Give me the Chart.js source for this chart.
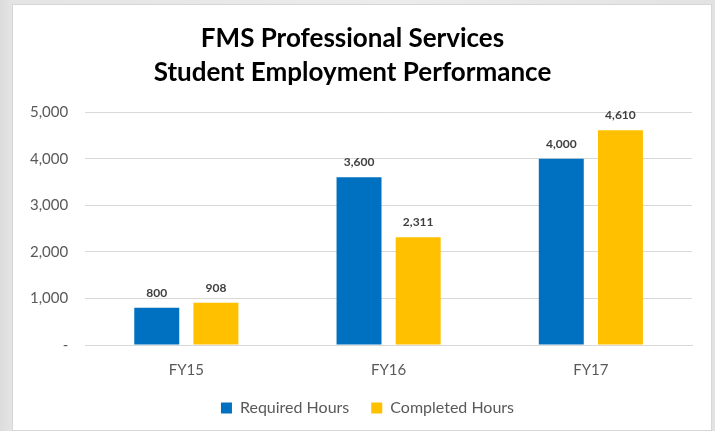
<!DOCTYPE html>
<html>
<head>
<meta charset="utf-8">
<script src="https://cdn.jsdelivr.net/npm/chart.js@4.4.1/dist/chart.umd.min.js"></script>
<style>
  html, body { margin: 0; padding: 0; }
  body {
    width: 715px; height: 431px; overflow: hidden;
    background: linear-gradient(to right, #dcdcdc 0px, #e4e4e4 12px, #ececec 400px, #e2e2e2 715px);
    position: relative;
  }
  #panel {
    position: absolute; left: 12px; top: 4px; width: 700px; height: 427px;
    background: #ffffff; border: 1px solid #d6d6d6; box-sizing: border-box;
  }
</style>
</head>
<body>
<div id="panel"><canvas id="hoursChart"></canvas></div>
<script>
// chart data
const years = ['FY15', 'FY16', 'FY17'];
const requiredHours = [800, 3600, 4000];
const completedHours = [908, 2311, 4610];
const titleLines = ['FMS Professional Services', 'Student Employment Performance'];

// simple value labels above each bar
const barValueLabels = {
    id: 'barValueLabels',
    afterDatasetsDraw(chart) {
        const ctx = chart.ctx;
        ctx.save();
        ctx.font = 'bold 12px Lato';
        ctx.fillStyle = '#404040';
        ctx.textAlign = 'center';
        ctx.textBaseline = 'bottom';
        chart.data.datasets.forEach((ds, i) => {
            chart.getDatasetMeta(i).data.forEach((bar, j) => {
                ctx.fillText(ds.data[j].toLocaleString('en-US'), bar.x, bar.y - 9);
            });
        });
        ctx.restore();
    }
};

// legend sits centred on the whole panel, not just the padded area
const shiftLegend = {
    id: 'shiftLegend',
    afterLayout(chart) {
        chart.legend.left += 15;
        chart.legend.right += 15;
    }
};

document.addEventListener("DOMContentLoaded", function () {
    const ctx = document.getElementById('hoursChart').getContext('2d');
    new Chart(ctx, {
        type: 'bar',
        data: {
            labels: years,
            datasets: [{
                label: 'Required Hours',
                data: requiredHours,
                backgroundColor: '#0070C0',
                categoryPercentage: 0.585,
                barPercentage: 0.76
            }, {
                label: 'Completed Hours',
                data: completedHours,
                backgroundColor: '#FFC000',
                categoryPercentage: 0.585,
                barPercentage: 0.76
            }]
        },
        options: {
            responsive: true,
            maintainAspectRatio: false,
            animation: false,
            layout: { padding: { left: 0, right: 19, top: 17, bottom: 4 } },
            plugins: {
                title: {
                    display: true,
                    text: titleLines,
                    color: '#000000',
                    font: { family: 'Lato', size: 26, weight: 'bold', lineHeight: 1.31 },
                    padding: { top: 0, bottom: 22 }
                },
                legend: {
                    position: 'bottom',
                    labels: {
                        color: '#595959',
                        font: { family: 'Lato', size: 16 },
                        boxWidth: 11,
                        boxHeight: 11,
                        padding: 22
                    }
                },
                tooltip: { enabled: false }
            },
            scales: {
                x: {
                    grid: { display: false },
                    border: { color: '#d9d9d9', width: 1 },
                    ticks: { color: '#595959', font: { family: 'Lato', size: 15 }, padding: 8 },
                    // pull the legend closer to the axis labels
                    afterFit: scale => { scale.height -= 9; }
                },
                y: {
                    min: 0,
                    max: 5000,
                    grid: { color: '#d9d9d9', drawTicks: false },
                    border: { display: false },
                    ticks: {
                        stepSize: 1000,
                        color: '#595959',
                        font: { family: 'Lato', size: 15 },
                        padding: 17,
                        callback: v => v === 0 ? '-' : v.toLocaleString('en-US')
                    }
                }
            }
        },
        plugins: [barValueLabels, shiftLegend]
    });
});
</script>
</body>
</html>
